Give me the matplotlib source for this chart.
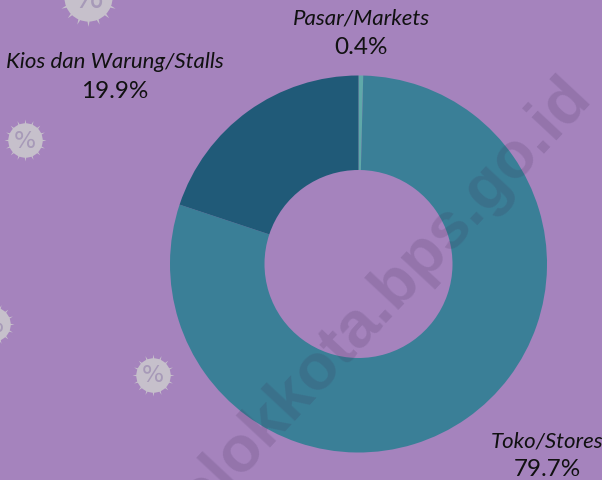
import matplotlib
matplotlib.use("Agg")
import matplotlib.pyplot as plt

categories = ["Pasar/Markets", "Toko/Stores", "Kios dan Warung/Stalls"]
values = [0.4, 79.7, 19.9]
value_labels = ["0.4%", "79.7%", "19.9%"]
colors = ["#5fa9a9", "#3a7f97", "#205a78"]
BG = "#a583bd"
W, H = 602, 481
Y = lambda py: H - py

fig = plt.figure(figsize=(6.02, 4.81), dpi=100, facecolor=BG)
ax = fig.add_axes([0, 0, 1, 1], facecolor=BG)

# faint percent badges in the background
for (px, py, d) in [(25, 141, 40), (153, 376, 40), (88, -2, 56), (-7, 325, 40)]:
    pts = d * 0.72
    ax.scatter([px], [Y(py)], s=(pts * 0.86) ** 2, marker="o", color="#c6c0cb", linewidths=0, zorder=1)
    ax.scatter([px], [Y(py)], s=(pts * 1.0) ** 2 * 1.1, marker=(16, 1, 0), color="#c6c0cb",
               linewidths=0, zorder=1)
    ax.text(px, Y(py), "%", ha="center", va="center", fontsize=d * 0.42,
            color="#a79ab8", zorder=2, clip_on=True)

ax.pie(values, colors=colors, startangle=90, counterclock=False,
       center=(358.5, Y(265)), radius=188.5,
       wedgeprops=dict(width=94.5, linewidth=0))
ax.set_xlim(0, W)
ax.set_ylim(0, H)
ax.set_aspect("equal")
ax.axis("off")

positions = [(361, 19, 47), (547, 442, 470), (115, 62, 91)]
for name, val, (px, y1, y2) in zip(categories, value_labels, positions):
    ax.text(px, Y(y1), name, ha="center", va="center", fontsize=16, family="Lato",
            style="italic", color="#111111", zorder=5)
    ax.text(px, Y(y2), val, ha="center", va="center", fontsize=17.5, family="Lato",
            color="#111111", zorder=5)

ax.text(372, Y(311), "solokkota.bps.go.id", rotation=47, rotation_mode="anchor",
        ha="center", va="center", fontsize=47, fontweight="bold", family="Liberation Sans",
        color="#3a2850", alpha=0.16, zorder=6, clip_on=True)

fig.savefig("out.png", dpi=100, facecolor=BG)
